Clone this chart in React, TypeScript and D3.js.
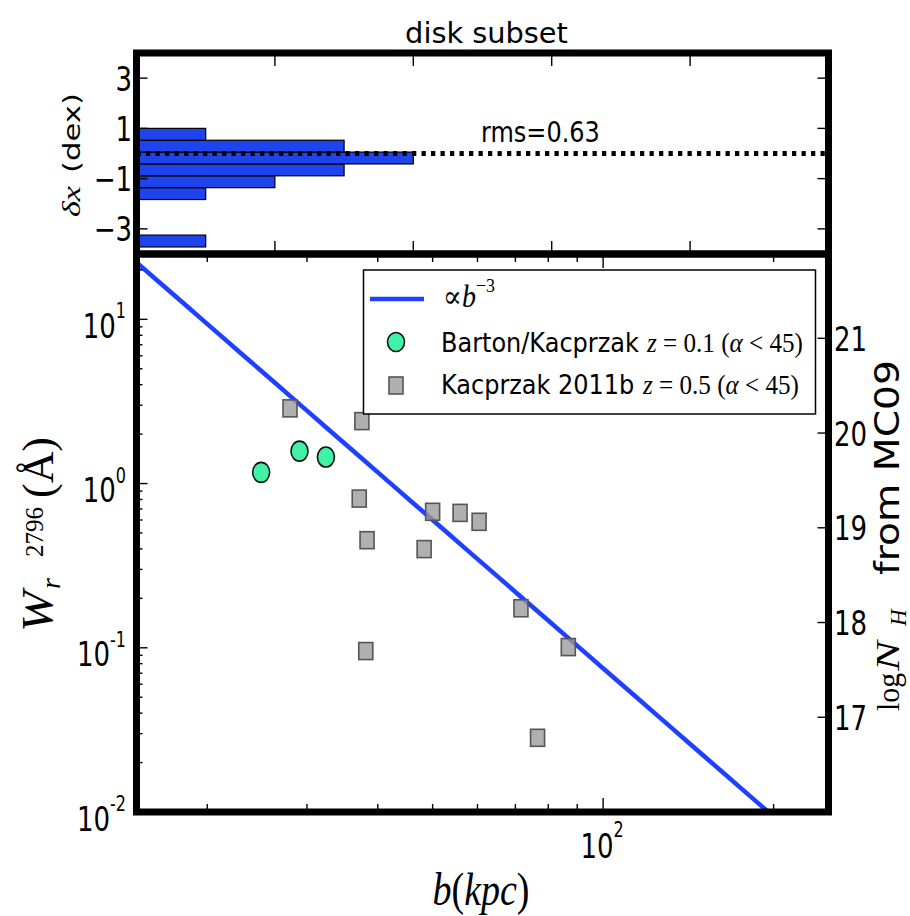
import React from "react";
import * as d3 from "d3";

// ---- data -------------------------------------------------------------
// impact parameter b (kpc) and rest equivalent width W_r(2796) (Å)
const kacprzak2011bB = [28.0, 37.5, 37.1, 50.0, 55.9, 60.4, 38.3, 48.3, 38.1, 71.6, 86.8, 76.6];
const kacprzak2011bW = [2.87, 2.4, 0.81, 0.673, 0.663, 0.585, 0.452, 0.399, 0.0955, 0.174, 0.101, 0.0283];
const bartonB = [24.9, 29.1, 32.4];
const bartonW = [1.17, 1.575, 1.45];

// power-law model W = norm * b^slope
const fitNorm = 7.5e4;
const fitSlope = -3;

// residual histogram (dex)
const residualBinEdges = [-3.72, -3.248, -2.776, -2.304, -1.832, -1.36, -0.888, -0.416, 0.056, 0.528, 1.0];
const residualCounts = [1, 0, 0, 0, 1, 2, 3, 4, 3, 1];
const rmsText = "rms=0.63";

// tick values
const histCountTicks = [2, 4, 6, 8];
const histDeltaTicks = [3, 1, -1, -3];
const nhTicks = [17, 18, 19, 20, 21];

// ---- layout -----------------------------------------------------------
const WIDTH = 910;
const HEIGHT = 916;
const X0 = 136.5;
const X1 = 828.5;
const TOP_Y0 = 53;
const TOP_Y1 = 254;
const BOT_Y0 = 254;
const BOT_Y1 = 812;
const SPINE = 7;

const SANS = "DejaVu Sans, sans-serif";
const SERIF = "Liberation Serif, DejaVu Serif, serif";
const BLUE = "#2040ff";
const BAR = "#1f44ee";

// scales
const xb = d3.scaleLog().domain([15, 250]).range([X0, X1]);
const yw = d3.scaleLog().domain([0.01, 25]).range([BOT_Y1, BOT_Y0]);
const ynh = d3.scaleLinear().domain([16, 21.89]).range([BOT_Y1, BOT_Y0]);
const xc = d3.scaleLinear().domain([0, 10]).range([X0, X1]);
const yd = d3.scaleLinear().domain([-4, 4]).range([TOP_Y1, TOP_Y0]);

const isPow10 = (v: number) => Math.abs(Math.log10(v) - Math.round(Math.log10(v))) < 1e-9;

// text drawn in a locally scaled frame
function T({ x, y, sx = 1, sy = 1, rot = 0, children, ...rest }: any) {
  return (
    <g transform={`translate(${x},${y}) rotate(${rot}) scale(${sx},${sy})`}>
      <text x={0} y={0} {...rest}>
        {children}
      </text>
    </g>
  );
}

export default function App() {
  const bTicks = xb.ticks().filter((v) => v > 15 && v < 250);
  const wTicks = yw.ticks().filter((v) => v >= 0.01 && v <= 25);

  const fitDomain = xb.domain();
  const fitPts = d3.range(0, 41).map((i) => {
    const lb = Math.log10(fitDomain[0]) + (i / 40) * (Math.log10(fitDomain[1]) - Math.log10(fitDomain[0]));
    const b = Math.pow(10, lb);
    return [b, fitNorm * Math.pow(b, fitSlope)] as [number, number];
  });
  const fitPath = d3
    .line<[number, number]>()
    .x((d) => xb(d[0]))
    .y((d) => yw(d[1]))(fitPts) as string;

  const bins = residualCounts.map((c, i) => ({ lo: residualBinEdges[i], hi: residualBinEdges[i + 1], c }));

  const tickStroke = { stroke: "#000", strokeWidth: 1.4 };
  const tickFont = { fontFamily: SANS, fontSize: 26 };
  const TSY = 1.3;

  return (
    <svg width={WIDTH} height={HEIGHT} viewBox={`0 0 ${WIDTH} ${HEIGHT}`} style={{ display: "block", position: "absolute", left: 0, top: 0, background: "#fff" }}>
      <rect x={0} y={0} width={WIDTH} height={HEIGHT} fill="#fff" />
      <defs>
        <clipPath id="botClip">
          <rect x={X0} y={BOT_Y0} width={X1 - X0} height={BOT_Y1 - BOT_Y0} />
        </clipPath>
      </defs>

      {/* title */}
      <T x={(X0 + X1) / 2 + 4} y={43} sx={1.03} fontFamily={SANS} fontSize={28} textAnchor="middle">
        disk subset
      </T>

      {/* ---------- residual histogram ---------- */}
      {bins
        .filter((d) => d.c > 0)
        .map((d, i) => (
          <rect
            key={i}
            x={xc(0)}
            y={yd(d.hi)}
            width={xc(d.c) - xc(0)}
            height={yd(d.lo) - yd(d.hi)}
            fill={BAR}
            stroke="#000"
            strokeWidth={1.2}
          />
        ))}
      <line x1={X0} x2={X1} y1={yd(0)} y2={yd(0)} stroke="#000" strokeWidth={5} strokeDasharray="4.3 5.2" />
      <T x={481} y={141.5} sy={1.15} fontFamily={SANS} fontSize={24}>
        {rmsText}
      </T>

      {histCountTicks.map((v) => (
        <g key={"hc" + v}>
          <line x1={xc(v)} x2={xc(v)} y1={TOP_Y0} y2={TOP_Y0 + 13} {...tickStroke} />
          <line x1={xc(v)} x2={xc(v)} y1={TOP_Y1} y2={TOP_Y1 - 13} {...tickStroke} />
        </g>
      ))}
      {histDeltaTicks.map((v) => (
        <g key={"hd" + v}>
          <line x1={X0} x2={X0 + 11} y1={yd(v)} y2={yd(v)} {...tickStroke} />
          <line x1={X1} x2={X1 - 11} y1={yd(v)} y2={yd(v)} {...tickStroke} />
          <T x={132} y={yd(v) + 12.5} sy={TSY} {...tickFont} textAnchor="end">
            {v < 0 ? "\u2212" + Math.abs(v) : String(v)}
          </T>
        </g>
      ))}
      {/* δx (dex) */}
      <g transform="translate(80,0) rotate(-90)">
        <text x={-217} y={0} fontFamily={SERIF} fontStyle="italic" fontSize={26} textLength={31} lengthAdjust="spacingAndGlyphs">
          δx
        </text>
        <text x={-173} y={0} fontFamily={SANS} fontSize={23} textLength={80} lengthAdjust="spacingAndGlyphs">
          (dex)
        </text>
      </g>

      {/* ---------- W vs b panel ---------- */}
      <path d={fitPath} fill="none" stroke={BLUE} strokeWidth={4.5} clipPath="url(#botClip)" />

      {bartonB.map((b, i) => (
        <ellipse key={"g" + i} cx={xb(b)} cy={yw(bartonW[i])} rx={8.5} ry={10} fill="#40f2a6" stroke="#111" strokeWidth={1.6} />
      ))}
      {kacprzak2011bB.map((b, i) => (
        <rect
          key={"s" + i}
          x={xb(b) - 7}
          y={yw(kacprzak2011bW[i]) - 8.5}
          width={14}
          height={17}
          fill="#9a9a9a"
          fillOpacity={0.78}
          stroke="#555"
          strokeWidth={1.6}
        />
      ))}

      {/* x ticks, bottom and top */}
      {bTicks.map((v) => {
        const L = isPow10(v) ? 14 : 8;
        return (
          <g key={"bt" + v}>
            <line x1={xb(v)} x2={xb(v)} y1={BOT_Y1} y2={BOT_Y1 - L} {...tickStroke} />
            <line x1={xb(v)} x2={xb(v)} y1={BOT_Y0} y2={BOT_Y0 + L} {...tickStroke} />
          </g>
        );
      })}
      {bTicks.filter(isPow10).map((v) => (
        <g key={"bl" + v} transform={`translate(${xb(v) - 1},858) scale(1,${TSY})`}>
          <text x={0} y={0} textAnchor="middle" {...tickFont}>
            10
            <tspan fontSize={16} dy={-16}>
              {Math.round(Math.log10(v))}
            </tspan>
          </text>
        </g>
      ))}

      {/* left W ticks */}
      {wTicks.map((v) => {
        const L = isPow10(v) ? 11 : 6;
        return <line key={"wt" + v} x1={X0} x2={X0 + L} y1={yw(v)} y2={yw(v)} {...tickStroke} />;
      })}
      {wTicks.filter(isPow10).map((v) => (
        <g key={"wl" + v} transform={`translate(126,${yw(v) + 18.5}) scale(1,${TSY})`}>
          <text x={0} y={0} textAnchor="end" {...tickFont}>
            10
            <tspan fontSize={16} dy={-15}>
              {Math.round(Math.log10(v)) < 0 ? "-" + Math.abs(Math.round(Math.log10(v))) : Math.round(Math.log10(v))}
            </tspan>
          </text>
        </g>
      ))}

      {/* right log N_H ticks */}
      {nhTicks.map((v) => (
        <g key={"nh" + v}>
          <line x1={X1} x2={X1 - 11} y1={ynh(v)} y2={ynh(v)} {...tickStroke} />
          <T x={834} y={ynh(v) + 12.5} sy={TSY} {...tickFont}>
            {String(v)}
          </T>
        </g>
      ))}

      {/* legend */}
      <g>
        <rect x={363.5} y={270} width={452} height={144} fill="#fff" stroke="#000" strokeWidth={1.5} />
        <line x1={370} x2={424} y1={299} y2={299} stroke={BLUE} strokeWidth={4.5} />
        <g transform="translate(443,307) scale(1,1.1)">
          <text x={0} y={0} fontFamily={SERIF} fontSize={28}>
            <tspan>∝</tspan>
            <tspan fontStyle="italic">b</tspan>
            <tspan fontSize={18} dy={-14}>−3</tspan>
          </text>
        </g>
        <ellipse cx={396} cy={342} rx={8.5} ry={9.5} fill="#40f2a6" stroke="#111" strokeWidth={1.6} />
        <g transform="translate(441,351.5) scale(1,1.14)">
          <text x={0} y={0} fontFamily={SANS} fontSize={24}>
            Barton/Kacprzak
          </text>
        </g>
        <g transform="translate(647,351.5) scale(1,1.12)">
          <text x={0} y={0} fontFamily={SERIF} fontSize={25} textLength={156} lengthAdjust="spacingAndGlyphs">
            <tspan fontStyle="italic">z</tspan>
            <tspan> = 0.1 (</tspan>
            <tspan fontStyle="italic">α</tspan>
            <tspan> &lt; 45)</tspan>
          </text>
        </g>
        <rect x={389} y={377} width={14} height={17} fill="#9a9a9a" fillOpacity={0.78} stroke="#555" strokeWidth={1.6} />
        <g transform="translate(441,393.5) scale(1,1.14)">
          <text x={0} y={0} fontFamily={SANS} fontSize={24}>
            Kacprzak 2011b
          </text>
        </g>
        <g transform="translate(643,393.5) scale(1,1.12)">
          <text x={0} y={0} fontFamily={SERIF} fontSize={25} textLength={156} lengthAdjust="spacingAndGlyphs">
            <tspan fontStyle="italic">z</tspan>
            <tspan> = 0.5 (</tspan>
            <tspan fontStyle="italic">α</tspan>
            <tspan> &lt; 45)</tspan>
          </text>
        </g>
      </g>

      {/* axis titles */}
      <g transform={`translate(481,905) scale(1,1.2)`}>
        <text x={0} y={0} textAnchor="middle" fontFamily={SERIF} fontSize={38}>
          <tspan fontStyle="italic">b</tspan>
          <tspan>(</tspan>
          <tspan fontStyle="italic">kpc</tspan>
          <tspan>)</tspan>
        </text>
      </g>
      {/* W_r^2796 (Å), reading upwards */}
      <g transform="translate(52,0) rotate(-90)">
        <text x={-632} y={0} fontFamily={SERIF} fontStyle="italic" fontSize={44} textLength={41} lengthAdjust="spacingAndGlyphs">
          W
        </text>
        <text x={-589} y={8} fontFamily={SERIF} fontStyle="italic" fontSize={28}>
          r
        </text>
        <text x={-557} y={-9} fontFamily={SERIF} fontSize={26} textLength={50} lengthAdjust="spacingAndGlyphs">
          2796
        </text>
        <text x={-498} y={1} fontFamily={SERIF} fontSize={44} textLength={61} lengthAdjust="spacingAndGlyphs">
          (Å)
        </text>
      </g>
      {/* log N_H from MC09, reading upwards */}
      <g transform="translate(899,0) rotate(-90)">
        <text x={-711} y={0} fontFamily={SERIF} fontSize={32} textLength={38} lengthAdjust="spacingAndGlyphs">
          log
        </text>
        <text x={-671} y={0} fontFamily={SERIF} fontStyle="italic" fontSize={34} textLength={30} lengthAdjust="spacingAndGlyphs">
          N
        </text>
        <text x={-626} y={7} fontFamily={SERIF} fontStyle="italic" fontSize={23}>
          H
        </text>
        <text x={-575} y={0} fontFamily={SANS} fontSize={34} textLength={215} lengthAdjust="spacingAndGlyphs">
          from MC09
        </text>
      </g>

      {/* frames */}
      <rect x={X0} y={TOP_Y0} width={X1 - X0} height={TOP_Y1 - TOP_Y0} fill="none" stroke="#000" strokeWidth={SPINE} />
      <rect x={X0} y={BOT_Y0} width={X1 - X0} height={BOT_Y1 - BOT_Y0} fill="none" stroke="#000" strokeWidth={SPINE} />
    </svg>
  );
}
